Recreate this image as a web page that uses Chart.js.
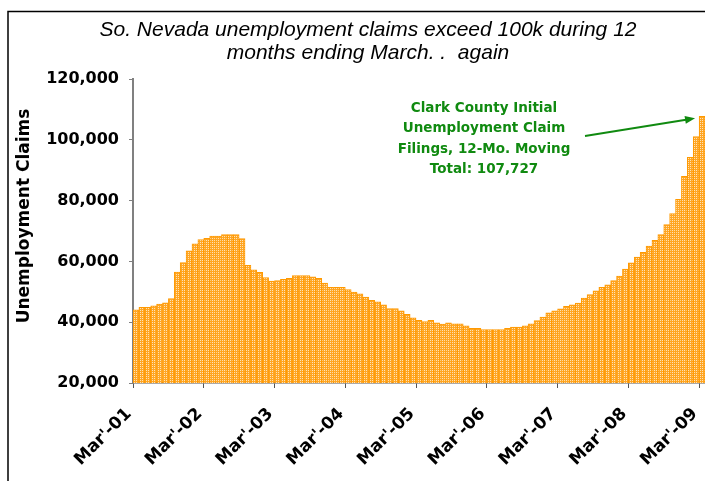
<!DOCTYPE html>
<html>
<head>
<meta charset="utf-8">
<script src="https://cdn.jsdelivr.net/npm/chart.js@4.4.1/dist/chart.umd.min.js"></script>
<style>
  html, body { margin: 0; padding: 0; background: #fff; }
  #wrap { width: 705px; height: 481px; }
</style>
</head>
<body>
<div id="wrap"><canvas id="claimsChart" width="705" height="481"></canvas></div>
<script>
    // Meses (Mar 2001 - Mar 2009)
    const meses = [
        'Mar-01', 'Apr-01', 'May-01', 'Jun-01', 'Jul-01', 'Aug-01', 'Sep-01', 'Oct-01', 'Nov-01', 'Dec-01', 'Jan-02', 'Feb-02',
        'Mar-02', 'Apr-02', 'May-02', 'Jun-02', 'Jul-02', 'Aug-02', 'Sep-02', 'Oct-02', 'Nov-02', 'Dec-02', 'Jan-03', 'Feb-03',
        'Mar-03', 'Apr-03', 'May-03', 'Jun-03', 'Jul-03', 'Aug-03', 'Sep-03', 'Oct-03', 'Nov-03', 'Dec-03', 'Jan-04', 'Feb-04',
        'Mar-04', 'Apr-04', 'May-04', 'Jun-04', 'Jul-04', 'Aug-04', 'Sep-04', 'Oct-04', 'Nov-04', 'Dec-04', 'Jan-05', 'Feb-05',
        'Mar-05', 'Apr-05', 'May-05', 'Jun-05', 'Jul-05', 'Aug-05', 'Sep-05', 'Oct-05', 'Nov-05', 'Dec-05', 'Jan-06', 'Feb-06',
        'Mar-06', 'Apr-06', 'May-06', 'Jun-06', 'Jul-06', 'Aug-06', 'Sep-06', 'Oct-06', 'Nov-06', 'Dec-06', 'Jan-07', 'Feb-07',
        'Mar-07', 'Apr-07', 'May-07', 'Jun-07', 'Jul-07', 'Aug-07', 'Sep-07', 'Oct-07', 'Nov-07', 'Dec-07', 'Jan-08', 'Feb-08',
        'Mar-08', 'Apr-08', 'May-08', 'Jun-08', 'Jul-08', 'Aug-08', 'Sep-08', 'Oct-08', 'Nov-08', 'Dec-08', 'Jan-09', 'Feb-09',
        'Mar-09'
    ];

    // Rotulos do eixo x (um por ano)
    const tickLabels = ["Mar'-01", "Mar'-02", "Mar'-03", "Mar'-04", "Mar'-05", "Mar'-06", "Mar'-07", "Mar'-08", "Mar'-09"];

    // Pedidos iniciais, total movel de 12 meses
    const claims = [
        44100, 44900, 44900, 45400, 46000, 46400, 47800, 56500, 59600, 63500, 65800, 67200,
        67600, 68300, 68300, 68800, 68800, 68800, 67500, 58700, 57200, 56400, 54700, 53500,
        53700, 54100, 54400, 55300, 55300, 55300, 54900, 54400, 52900, 51500, 51500, 51500,
        50700, 49900, 49300, 48300, 47200, 46700, 45700, 44500, 44500, 43700, 42600, 41400,
        40600, 40200, 40600, 39800, 39400, 39800, 39500, 39500, 38800, 38000, 38000, 37600,
        37600, 37600, 37600, 38000, 38400, 38400, 38800, 39500, 40500, 41700, 43100, 43700,
        44400, 45200, 45700, 46300, 47900, 49100, 50300, 51500, 52300, 53700, 55200, 57500,
        59500, 61400, 63000, 65000, 66900, 68800, 72100, 75700, 80400, 88000, 94200, 101100,
        107727
    ];

    const yTicks = [20000, 40000, 60000, 80000, 100000, 120000];

    const titleLines = ['So. Nevada unemployment claims exceed 100k during 12', 'months ending March. .  again'];
    const yTitle = 'Unemployment Claims';
    const noteLines = ['Clark County Initial', 'Unemployment Claim', 'Filings, 12-Mo. Moving', 'Total: 107,727'];

    // Padrao xadrez laranja das barras
    const pc = document.createElement('canvas');
    pc.width = 2; pc.height = 2;
    const pg = pc.getContext('2d');
    pg.fillStyle = '#FFA624'; pg.fillRect(0, 0, 2, 2);
    pg.fillStyle = '#FFE2B6'; pg.fillRect(0, 0, 1, 1);
    const barPattern = pg.createPattern(pc, 'repeat');

    const tickFont = { family: '"DejaVu Sans", Verdana, sans-serif', size: 16, weight: 'bold' };

    // Moldura, titulo, eixo y e anotacao
    const extras = {
        id: 'extras',
        afterDraw(chart) {
            const c = chart.ctx;
            const xs = chart.scales.x, ys = chart.scales.y;
            c.save();
            c.strokeStyle = '#000';
            c.lineWidth = 1.5;
            c.beginPath();
            c.moveTo(8, 481); c.lineTo(8, 11.5); c.lineTo(705, 11.5);
            c.stroke();

            c.fillStyle = '#000';
            c.textAlign = 'center';
            c.textBaseline = 'alphabetic';
            c.font = 'italic 21px "Liberation Sans", Arial, sans-serif';
            c.fillText(titleLines[0], 368, 35.5);
            c.fillText(titleLines[1], 368, 58.5);

            c.save();
            c.translate(25, 216);
            c.rotate(-Math.PI / 2);
            c.textBaseline = 'middle';
            c.font = 'bold 17px "DejaVu Sans", Verdana, sans-serif';
            c.fillText(yTitle, 0, 0);
            c.restore();

            c.fillStyle = '#108A10';
            c.textBaseline = 'middle';
            c.font = 'bold 13.5px "DejaVu Sans", Verdana, sans-serif';
            noteLines.forEach((t, i) => c.fillText(t, 484, 108 + i * 20.5));

            // seta ate a ultima barra
            const last = claims.length - 1;
            const tx = xs.getPixelForValue(last) - 7;
            const ty = ys.getPixelForValue(claims[last]) + 2;
            const sx = 585, sy = 136;
            const ang = Math.atan2(ty - sy, tx - sx);
            c.strokeStyle = '#108A10';
            c.lineWidth = 1.8;
            c.beginPath(); c.moveTo(sx, sy); c.lineTo(tx - 6 * Math.cos(ang), ty - 6 * Math.sin(ang)); c.stroke();
            c.fillStyle = '#108A10';
            c.beginPath();
            c.moveTo(tx, ty);
            c.lineTo(tx - 10 * Math.cos(ang) + 4 * Math.sin(ang), ty - 10 * Math.sin(ang) - 4 * Math.cos(ang));
            c.lineTo(tx - 10 * Math.cos(ang) - 4 * Math.sin(ang), ty - 10 * Math.sin(ang) + 4 * Math.cos(ang));
            c.closePath(); c.fill();
            c.restore();
        }
    };

    const ctx = document.getElementById('claimsChart').getContext('2d');
    const claimsChart = new Chart(ctx, {
        type: 'bar',
        data: {
            labels: meses,
            datasets: [{
                label: 'Initial Claims, 12-Mo. Moving Total',
                data: claims,
                backgroundColor: barPattern,
                borderColor: '#FF9900',
                borderWidth: 1,
                categoryPercentage: 1,
                barPercentage: 1
            }]
        },
        options: {
            responsive: false,
            animation: false,
            events: [],
            layout: { padding: { top: 79, left: 0, right: 0, bottom: 0 } },
            plugins: {
                legend: { display: false },
                tooltip: { enabled: false },
                title: { display: false }
            },
            scales: {
                x: {
                    afterFit(s) { s.height = 98; s.paddingLeft = 0; s.paddingRight = 0; },
                    grid: {
                        drawOnChartArea: false,
                        drawTicks: true,
                        tickLength: 5,
                        offset: true,
                        color: '#555',
                        tickColor: c => (c.index % 12 === 0 ? '#555' : 'rgba(0,0,0,0)')
                    },
                    border: { color: '#555', width: 1.5 },
                    ticks: {
                        autoSkip: false,
                        maxRotation: 45,
                        minRotation: 45,
                        padding: 16,
                        labelOffset: -7,
                        color: '#000',
                        font: { family: '"DejaVu Sans", Verdana, sans-serif', size: 17, weight: 'bold' },
                        callback: (v, i) => (i % 12 === 0 ? tickLabels[i / 12] : '')
                    }
                },
                y: {
                    min: yTicks[0],
                    max: yTicks[yTicks.length - 1],
                    afterFit(s) { s.width = 133; },
                    afterBuildTicks(s) { s.ticks = yTicks.map(v => ({ value: v })); },
                    grid: { drawOnChartArea: false, drawTicks: true, tickLength: 4, color: '#808080' },
                    border: { color: '#808080', width: 2 },
                    ticks: {
                        padding: 10,
                        color: '#000',
                        font: tickFont,
                        callback: v => v.toLocaleString('en-US')
                    }
                }
            }
        },
        plugins: [extras]
    });
</script>
</body>
</html>
